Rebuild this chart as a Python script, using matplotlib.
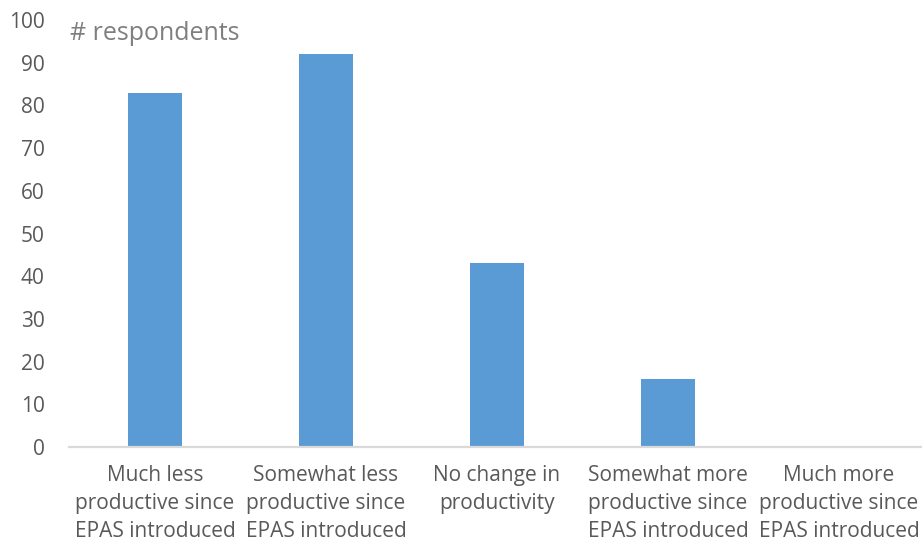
import matplotlib.pyplot as plt

plt.rcParams['font.family'] = ['Open Sans', 'DejaVu Sans']

categories = ['Much less\nproductive since\nEPAS introduced',
              'Somewhat less\nproductive since\nEPAS introduced',
              'No change in\nproductivity',
              'Somewhat more\nproductive since\nEPAS introduced',
              'Much more\nproductive since\nEPAS introduced']
respondents = [83, 92, 43, 16, 0]
yticks = list(range(0, 101, 10))

grey = '#595959'
fig = plt.figure(figsize=(9.22, 5.46), dpi=100)
ax = fig.add_axes([69.5 / 922, 99 / 546, 855 / 922, 427 / 546])

ax.bar(range(len(categories)), respondents, width=0.316, color='#5B9BD5', zorder=2)

ax.set_xlim(-0.5, len(categories) - 0.5)
ax.set_ylim(0, 100)
ax.set_yticks(yticks)
ax.set_xticks(range(len(categories)))
ax.set_xticklabels(categories, fontsize=15, color=grey, linespacing=1.45)
ax.tick_params(axis='y', labelsize=15, labelcolor=grey, length=0, pad=18)
ax.tick_params(axis='x', length=0, pad=13)

for s in ['top', 'right', 'left']:
    ax.spines[s].set_visible(False)
ax.spines['bottom'].set_color('#D9D9D9')
ax.spines['bottom'].set_linewidth(1.6)

fig.text(70 / 922, 1 - 33 / 546, '# respondents', fontsize=18, color='#7F7F7F',
         ha='left', va='center')

fig.savefig('out.png', dpi=100)
